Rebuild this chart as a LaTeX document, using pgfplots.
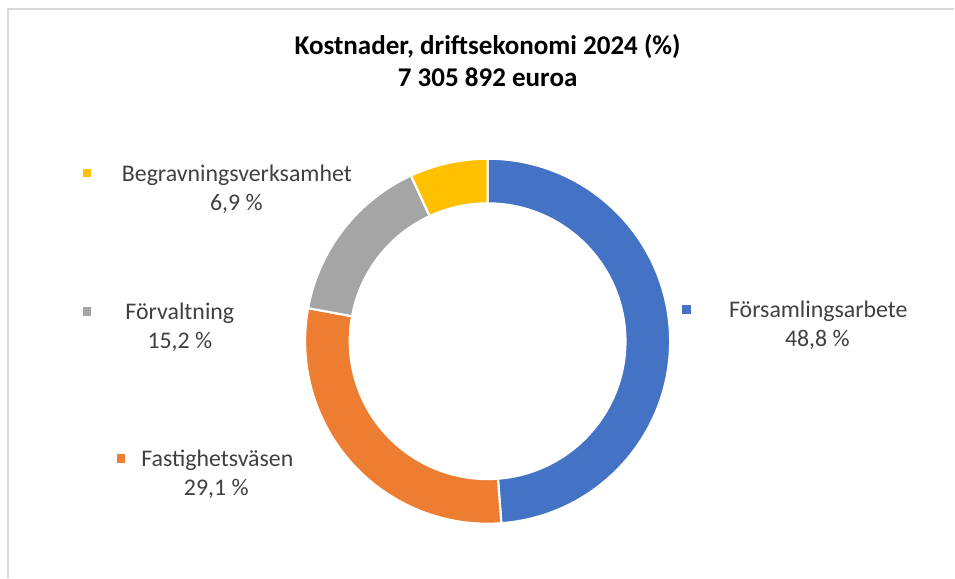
\documentclass[border=0pt]{standalone}
\usepackage{pgfplots}
\usepackage{pgfplotstable}
\pgfplotsset{compat=1.18}
\usepackage{fontspec}
\setmainfont{Carlito}
\definecolor{cBlue}{HTML}{4472C4}
\definecolor{cOrange}{HTML}{ED7D31}
\definecolor{cGray}{HTML}{A5A5A5}
\definecolor{cYellow}{HTML}{FFC000}
\definecolor{cText}{HTML}{404040}
\definecolor{cFrame}{HTML}{D9D9D9}

\pgfplotstableread{
label value
Församlingsarbete 48.8
Fastighetsväsen 29.1
Förvaltning 15.2
Begravningsverksamhet 6.9
}\costs

\pgfplotstablegetelem{0}{value}\of\costs \let\vA\pgfplotsretval
\pgfplotstablegetelem{1}{value}\of\costs \let\vB\pgfplotsretval
\pgfplotstablegetelem{2}{value}\of\costs \let\vC\pgfplotsretval
\pgfplotstablegetelem{3}{value}\of\costs \let\vD\pgfplotsretval
\pgfmathsetmacro\aA{90}
\pgfmathsetmacro\aB{\aA-3.6*\vA}
\pgfmathsetmacro\aC{\aB-3.6*\vB}
\pgfmathsetmacro\aD{\aC-3.6*\vC}
\pgfmathsetmacro\aE{\aD-3.6*\vD}

\newcommand\Rout{137pt}
\newcommand\Rin{103.5pt}
\newcommand\slice[3]{%
  \draw[fill=#3, draw=white, line width=1.6pt]
    ([shift={(#1:\Rout)}]C) arc[start angle=#1, end angle=#2, radius=\Rout]
    -- ([shift={(#2:\Rin)}]C) arc[start angle=#2, end angle=#1, radius=\Rin] -- cycle;}
\newcommand\lab{\fontsize{17.9}{21}\selectfont\color{cText}}
\newcommand\mk[1]{\textcolor{#1}{\rule{6.5pt}{6.5pt}}}

\begin{document}
\begin{tikzpicture}
\begin{axis}[hide axis, scale only axis, x=0.75pt, y=0.75pt,
  xmin=0, xmax=955, ymin=0, ymax=578, clip=false]
\fill[white] (axis cs:0,0) rectangle (axis cs:955,578);
\addplot[draw=none] coordinates {(0,0) (955,578)};
\draw[cFrame, line width=1.2pt] (axis cs:955,569) -- (axis cs:8,569) -- (axis cs:8,0);
\coordinate (C) at (axis cs:488,236.5);
\slice{\aA}{\aB}{cBlue}
\slice{\aB}{\aC}{cOrange}
\slice{\aC}{\aD}{cGray}
\slice{\aD}{\aE}{cYellow}
% title
\node[anchor=base, font=\fontsize{20.3}{24}\selectfont\bfseries] at (axis cs:488,523) {Kostnader, driftsekonomi 2024 (\%)};
\node[anchor=base, font=\fontsize{20.3}{24}\selectfont\bfseries] at (axis cs:488,491) {7 305 892 euroa};
% labels
\node[anchor=base] at (axis cs:819,260) {\lab Församlingsarbete};
\node[anchor=base] at (axis cs:818,231) {\lab 48,8 \%};
\node[inner sep=0pt] at (axis cs:687,268) {\mk{cBlue}};
\node[anchor=base] at (axis cs:217.5,111) {\lab Fastighetsväsen};
\node[anchor=base] at (axis cs:216.5,82) {\lab 29,1 \%};
\node[inner sep=0pt] at (axis cs:121,119) {\mk{cOrange}};
\node[anchor=base] at (axis cs:180,258) {\lab Förvaltning};
\node[anchor=base] at (axis cs:180,229) {\lab 15,2 \%};
\node[inner sep=0pt] at (axis cs:87,266) {\mk{cGray}};
\node[anchor=base] at (axis cs:237,396) {\lab Begravningsverksamhet};
\node[anchor=base] at (axis cs:236.5,367) {\lab 6,9 \%};
\node[inner sep=0pt] at (axis cs:87,405) {\mk{cYellow}};
\end{axis}
\end{tikzpicture}
\end{document}
